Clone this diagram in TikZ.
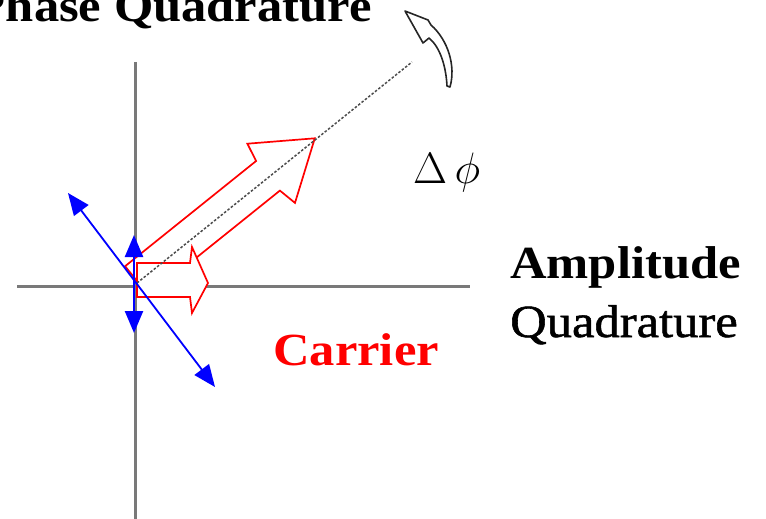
\RequirePackage{fix-cm}
\documentclass[tikz,border=0pt]{standalone}
\usepackage{fontspec}
\setmainfont{Liberation Serif}[FakeStretch=1.1]
\usetikzlibrary{arrows.meta}
\begin{document}
\begin{tikzpicture}[x=1pt,y=-1pt,
  axisline/.style={draw=gray!95!black,line width=3pt},
  bluearrow/.style={draw=blue,line width=2.4pt,{Triangle[length=22pt,width=18pt]}-{Triangle[length=22pt,width=18pt]}},
  redarrow/.style={draw=red,line width=1.7pt,fill=white,line join=miter},
  dashline/.style={draw=gray!60!black,line width=1.5pt,dash pattern=on 2.5pt off 1.8pt},
  lbl/.style={inner sep=0pt,anchor=base west,font=\fontsize{46}{50}\selectfont}
]
\useasboundingbox (0,0) rectangle (766,519);
% axes
\coordinate (vtop) at (135,62);
\coordinate (vbot) at (135,519);
\coordinate (hl) at (17,286);
\coordinate (hr) at (470,286);
\draw[axisline] (vtop) -- (vbot);
\draw[axisline] (hl) -- (hr);
% large red arrow
\draw[redarrow] (125.1,266.2) -- (256.1,161.0) -- (247.4,143.7) -- (314.8,138.3)
  -- (295.0,202.9) -- (279.9,190.6) -- (148.9,295.8) -- cycle;
% small red arrow
\draw[redarrow] (137,263) -- (190,263) -- (192,247) -- (208,283) -- (192,313)
  -- (190,297) -- (137,297) -- cycle;
% dashed line
\coordinate (d0) at (137,283);
\coordinate (d1) at (412,62);
\draw[dashline] (d0) -- (d1);
% blue arrows
\coordinate (b1) at (134,235);
\coordinate (b2) at (134,333);
\coordinate (b3) at (68,193);
\coordinate (b4) at (215,387);
\draw[bluearrow] (b1) -- (b2);
\draw[bluearrow,line width=1.8pt] (b3) -- (b4);
% curved hollow arrow
\draw[black!85,line width=1.6pt,line join=round] (405,11) -- (428,20)
  -- (431,25) .. controls (448,40) and (456,66) .. (450,87)
  -- (447,86) .. controls (446,66) and (440,47) .. (429,38)
  -- (423,43) -- cycle;
% labels
\node[lbl,anchor=base east,font=\fontsize{46}{50}\selectfont\bfseries] (phase) at (372,22) {Phase Quadrature};
\node[lbl,font=\fontsize{46}{50}\selectfont\bfseries] (amp) at (510,278) {Amplitude};
\node[lbl,font=\fontsize{46}{50}\selectfont\addfontfeature{FakeBold=1.2}] (quad) at (510,337) {Quadrature};
\node[lbl,text=red,font=\fontsize{46}{50}\selectfont\bfseries] (carrier) at (273,365) {Carrier};
\node[lbl,font=\fontsize{44}{50}\selectfont] (dphi) at (413,183) {$\Delta\,\phi$};
\end{tikzpicture}
\end{document}
